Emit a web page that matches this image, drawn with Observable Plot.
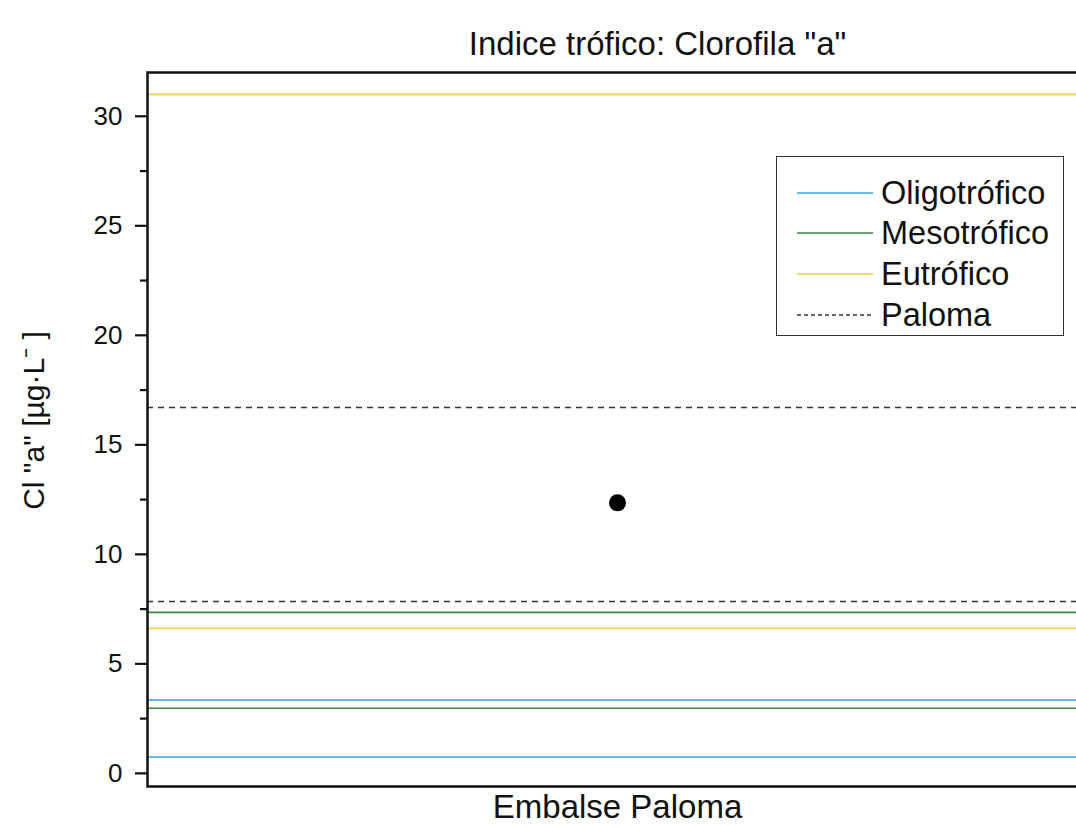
<!DOCTYPE html>
<html>
<head>
<meta charset="utf-8">
<script src="https://cdn.jsdelivr.net/npm/d3@7"></script>
<script src="https://cdn.jsdelivr.net/npm/@observablehq/plot@0.6"></script>
<style>
  html, body { margin: 0; padding: 0; background: #fff; overflow: hidden; width: 1076px; height: 827px; }
  #wrap { position: relative; width: 1076px; height: 827px; overflow: hidden; font-family: "Liberation Sans", Arial, sans-serif; }
  #wrap > svg { max-width: none !important; }
  #legend { position: absolute; left: 776px; top: 156px; width: 288px; height: 180px; border: 1.5px solid #333; box-sizing: border-box; background: #fff; }
  .row { position: absolute; left: 0; height: 40px; display: flex; align-items: center; }
  .row span { font-size: 32.5px; color: #111; margin-left: 8px; }
</style>
</head>
<body>
<div id="wrap"></div>
<script>
// ---- data ----
const title = 'Indice trófico: Clorofila "a"';
const yLabel = 'Cl "a" [µg·L⁻ ]';
const site = ["Embalse Paloma"];
const siteValue = [12.35];
const categories = ["Oligotrófico", "Mesotrófico", "Eutrófico", "Paloma"];
const colors = ["#3ba3d3", "#3a8a45", "#f0d23c", "#333333"];
const oligoValues = [0.75, 3.35];
const mesoValues = [2.97, 7.35];
const eutroValues = [6.62, 31.0];
const palomaValues = [7.85, 16.7];
const yTicks = [0, 5, 10, 15, 20, 25, 30];
const yMinorTicks = [2.5, 7.5, 12.5, 17.5, 22.5, 27.5];

const font = '"Liberation Sans", Arial, sans-serif';
const seriesValues = [oligoValues, mesoValues, eutroValues, palomaValues];

const ruleMarks = seriesValues.map((vals, i) =>
  Plot.ruleY(vals, {
    stroke: colors[i],
    strokeWidth: i === 3 ? 1.5 : 1.6,
    strokeDasharray: i === 3 ? "6,5" : null
  })
);

const chart = Plot.plot({
  width: 1090,
  height: 827,
  marginLeft: 147,
  marginRight: 3,
  marginTop: 72,
  marginBottom: 41,
  style: { fontFamily: font, background: "#fff", color: "#111", maxWidth: "none" },
  x: { type: "point", domain: site, padding: 0.5 },
  y: { domain: [-0.6, 32] },
  marks: [
    ...ruleMarks,
    Plot.dot(site.map((s, i) => ({ s, v: siteValue[i] })), { x: "s", y: "v", r: 8.5, fill: "#000", stroke: "none" }),
    Plot.axisY(yMinorTicks, { tickSize: 7, strokeWidth: 2.2, tickFormat: () => "", label: null }),
    Plot.axisY(yTicks, { tickSize: 12, tickPadding: 13, strokeWidth: 2.2, fontSize: 26, label: null }),
    Plot.axisX({ tickSize: 0, tickPadding: 8, fontSize: 33, label: null }),
    Plot.frame({ stroke: "#111", strokeWidth: 2.5 }),
    Plot.text([title], { frameAnchor: "top", dx: 40, dy: -41, fontSize: 33, fill: "#111" }),
    Plot.text([yLabel], { frameAnchor: "left", textAnchor: "middle", dx: -113, dy: -9, rotate: -90, fontSize: 30, fill: "#111" })
  ]
});

const wrap = document.getElementById("wrap");
wrap.appendChild(chart);

// legend
const legend = document.createElement("div");
legend.id = "legend";
const rowTops = [16, 56, 97, 138];
categories.forEach((c, i) => {
  const row = document.createElement("div");
  row.className = "row";
  row.style.top = rowTops[i] + "px";
  row.style.left = "20px";
  const svgNS = "http://www.w3.org/2000/svg";
  const sw = document.createElementNS(svgNS, "svg");
  sw.setAttribute("width", "76");
  sw.setAttribute("height", "10");
  const ln = document.createElementNS(svgNS, "line");
  ln.setAttribute("x1", "0"); ln.setAttribute("x2", "76");
  ln.setAttribute("y1", "5"); ln.setAttribute("y2", "5");
  ln.setAttribute("stroke", colors[i]);
  ln.setAttribute("stroke-width", "1.6");
  if (i === 3) ln.setAttribute("stroke-dasharray", "4,3");
  sw.appendChild(ln);
  row.appendChild(sw);
  const t = document.createElement("span");
  t.textContent = c;
  row.appendChild(t);
  legend.appendChild(row);
});
wrap.appendChild(legend);
</script>
</body>
</html>
